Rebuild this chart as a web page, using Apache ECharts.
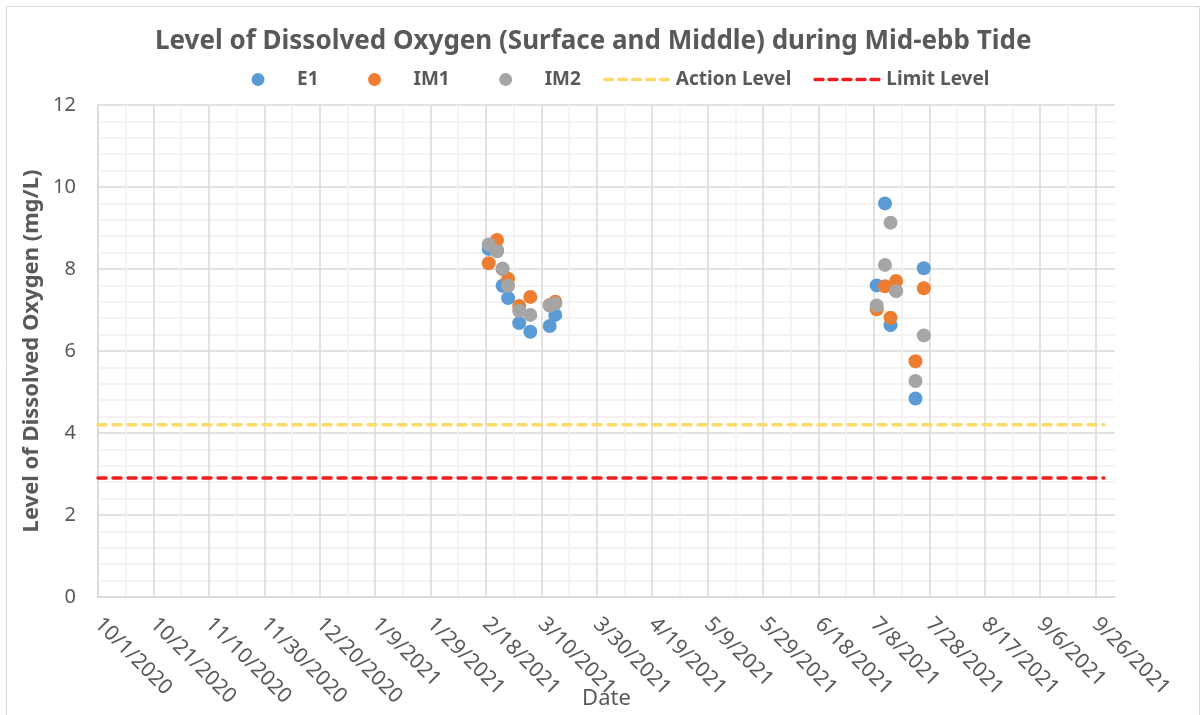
<!DOCTYPE html>
<html>
<head>
<meta charset="utf-8">
<script src="https://cdn.jsdelivr.net/npm/echarts@6/dist/echarts.min.js"></script>
<style>
html,body{margin:0;padding:0;background:#fff;}
#c{width:1202px;height:715px;}
</style>
</head>
<body>
<div id="c"></div>
<script>
// ---- data ----
const startDate = '2020-10-01';
const endDay = 367; // axis extent in days from startDate
const tickLabels = ['10/1/2020','10/21/2020','11/10/2020','11/30/2020','12/20/2020','1/9/2021','1/29/2021','2/18/2021','3/10/2021','3/30/2021','4/19/2021','5/9/2021','5/29/2021','6/18/2021','7/8/2021','7/28/2021','8/17/2021','9/6/2021','9/26/2021'];
const sampleDates = ['2021-02-19','2021-02-22','2021-02-24','2021-02-26','2021-03-02','2021-03-06','2021-03-13','2021-03-15','2021-07-09','2021-07-12','2021-07-14','2021-07-16','2021-07-23','2021-07-26'];
const E1  = [8.49,8.45,7.59,7.29,6.68,6.47,6.61,6.88,7.60,9.60,6.63,7.47,4.84,8.02];
const IM1 = [8.14,8.71,8.00,7.76,7.10,7.32,7.12,7.20,7.02,7.58,6.81,7.71,5.75,7.53];
const IM2 = [8.60,8.43,8.01,7.59,6.98,6.88,7.11,7.16,7.11,8.10,9.13,7.46,5.27,6.38];
const actionLevel = 4.2;
const limitLevel = 2.9;
const levelLineSpan = ['2020-10-01','2021-09-29'];

// ---- helpers ----
const DAY = 86400000;
function dayOf(s){ const p=s.split('-').map(Number); const q=startDate.split('-').map(Number);
  return Math.round((Date.UTC(p[0],p[1]-1,p[2]) - Date.UTC(q[0],q[1]-1,q[2]))/DAY); }
function pts(vals){ return sampleDates.map((d,i)=>[dayOf(d), vals[i]]); }
function lvl(v){ return levelLineSpan.map(d=>[dayOf(d), v]); }

// legend icons (68 x 14 box)
const BOX = 'M0 0L0.01 0L0.01 0.01Z M67.99 13.99L68 13.99L68 14L67.99 14Z ';
const DOT_ICON = 'path://' + BOX + 'M27.5 7A6.5 6.5 0 1 1 40.5 7A6.5 6.5 0 1 1 27.5 7Z';
let dashes = '';
[0,14,28,42,56].forEach(x=>{ dashes += 'M'+(x+1.6)+' 5.3L'+(x+9.6)+' 5.3A1.7 1.7 0 0 1 '+(x+9.6)+' 8.7L'+(x+1.6)+' 8.7A1.7 1.7 0 0 1 '+(x+1.6)+' 5.3Z '; });
const DASH_ICON = 'path://' + BOX + dashes;

const FONT = '"Noto Sans", "Open Sans", sans-serif';
const TXT = '#595959';
const chart = echarts.init(document.getElementById('c'), null, {renderer:'canvas'});
chart.setOption({
  backgroundColor:'#fff',
  animation:false,
  graphic:[{type:'rect',silent:true,shape:{x:6.5,y:6.5,width:1193,height:720},style:{fill:'none',stroke:'#D9D9D9',lineWidth:1}}],
  title:{text:'Level of Dissolved Oxygen (Surface and Middle) during Mid-ebb Tide',left:150,top:24,
    textStyle:{fontFamily:FONT,fontSize:26,fontWeight:'bold',color:TXT}},
  legend:{top:70,left:224,padding:0,itemWidth:68,itemHeight:14,itemGap:22,
    textStyle:{fontFamily:FONT,fontSize:19,fontWeight:'bold',color:TXT},
    data:[{name:'E1',icon:DOT_ICON},{name:'IM1',icon:DOT_ICON},{name:'IM2',icon:DOT_ICON},
          {name:'Action Level',icon:DASH_ICON},{name:'Limit Level',icon:DASH_ICON}]},
  grid:{left:98,right:87,top:105,bottom:118,containLabel:false,outerBoundsMode:'none'},
  xAxis:{type:'value',min:0,max:endDay,interval:10,
    name:'Date',nameLocation:'middle',nameGap:91,nameMoveOverlap:false,
    nameTextStyle:{fontFamily:FONT,fontSize:22,color:TXT},
    axisLine:{show:true,lineStyle:{color:'#D9D9D9',width:1.5}},
    axisTick:{show:false},
    axisLabel:{rotate:-45,margin:24,fontFamily:FONT,fontSize:21,color:TXT,showMaxLabel:false,
      formatter:function(v){ return (v%20===0 && tickLabels[v/20]) ? tickLabels[v/20] : ''; }},
    splitLine:{show:true,showMaxLine:false,lineStyle:{color:['#D9D9D9','#F0F0F0'],width:1.5}}
  },
  yAxis:{type:'value',min:0,max:12,interval:2,
    name:'Level of Dissolved Oxygen (mg/L)',nameLocation:'middle',nameGap:55,nameMoveOverlap:false,
    nameTextStyle:{fontFamily:FONT,fontSize:22,fontWeight:'bold',color:TXT},
    axisLine:{show:true,lineStyle:{color:'#D9D9D9',width:1.5}},
    axisTick:{show:false},
    axisLabel:{margin:22,fontFamily:FONT,fontSize:20,color:TXT},
    splitLine:{show:true,lineStyle:{color:'#D9D9D9',width:1.5}},
    minorTick:{show:false,splitNumber:5},
    minorSplitLine:{show:true,lineStyle:{color:'#F0F0F0',width:1.5}}
  },
  series:[
    {name:'E1',type:'scatter',data:pts(E1),symbolSize:14,itemStyle:{color:'#5B9BD5',opacity:1},z:3},
    {name:'IM1',type:'scatter',data:pts(IM1),symbolSize:14,itemStyle:{color:'#ED7D31',opacity:1},z:4},
    {name:'IM2',type:'scatter',data:pts(IM2),symbolSize:14,itemStyle:{color:'#A5A5A5',opacity:1},z:5},
    {name:'Action Level',type:'line',data:lvl(actionLevel),showSymbol:false,symbol:'none',
      lineStyle:{color:'#FFD966',width:3.5,type:[8,7],cap:'round'},itemStyle:{color:'#FFD966'},z:2},
    {name:'Limit Level',type:'line',data:lvl(limitLevel),showSymbol:false,symbol:'none',
      lineStyle:{color:'#F01E1E',width:3.5,type:[8,7],cap:'round'},itemStyle:{color:'#F01E1E'},z:2}
  ]
});
</script>
</body>
</html>
